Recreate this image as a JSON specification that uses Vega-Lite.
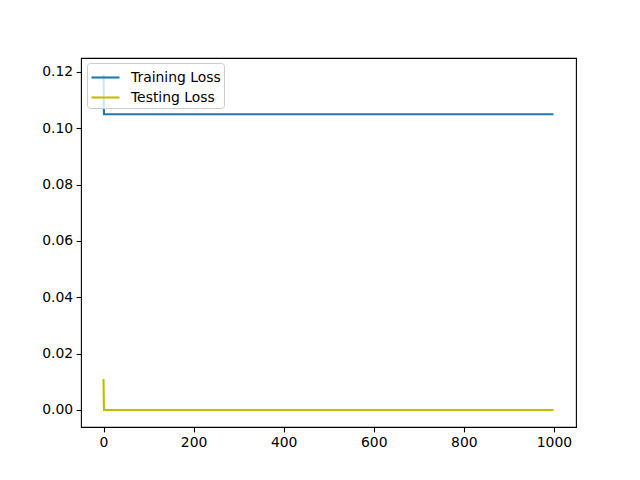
{
  "$schema": "https://vega.github.io/schema/vega-lite/v6.json",
  "width": 495,
  "height": 369,
  "autosize": {"type": "none"},
  "padding": {"left": 81, "top": 58, "right": 64, "bottom": 53},
  "background": "white",
  "config": {
    "font": "DejaVu Sans",
    "view": {"stroke": "black", "strokeWidth": 1.1},
    "axis": {
      "grid": false,
      "domain": false,
      "tickColor": "black",
      "tickSize": 4.9,
      "tickWidth": 1.1,
      "labelFontSize": 13.9,
      "labelColor": "black",
      "labelFont": "DejaVu Sans",
      "labelPadding": 3.5,
      "title": null
    },
    "legend": {
      "labelFontSize": 13.9,
      "labelColor": "black",
      "labelFont": "DejaVu Sans"
    }
  },
  "data": {
    "values": [
      {"step": 0, "loss": 0.119, "series": "Training Loss"},
      {"step": 1, "loss": 0.105, "series": "Training Loss"},
      {"step": 2, "loss": 0.105, "series": "Training Loss"},
      {"step": 10, "loss": 0.105, "series": "Training Loss"},
      {"step": 50, "loss": 0.105, "series": "Training Loss"},
      {"step": 100, "loss": 0.105, "series": "Training Loss"},
      {"step": 200, "loss": 0.105, "series": "Training Loss"},
      {"step": 300, "loss": 0.105, "series": "Training Loss"},
      {"step": 400, "loss": 0.105, "series": "Training Loss"},
      {"step": 500, "loss": 0.105, "series": "Training Loss"},
      {"step": 600, "loss": 0.105, "series": "Training Loss"},
      {"step": 700, "loss": 0.105, "series": "Training Loss"},
      {"step": 800, "loss": 0.105, "series": "Training Loss"},
      {"step": 900, "loss": 0.105, "series": "Training Loss"},
      {"step": 999, "loss": 0.105, "series": "Training Loss"},
      {"step": 0, "loss": 0.011, "series": "Testing Loss"},
      {"step": 1, "loss": 0.0, "series": "Testing Loss"},
      {"step": 2, "loss": 0.0, "series": "Testing Loss"},
      {"step": 10, "loss": 0.0, "series": "Testing Loss"},
      {"step": 50, "loss": 0.0, "series": "Testing Loss"},
      {"step": 100, "loss": 0.0, "series": "Testing Loss"},
      {"step": 200, "loss": 0.0, "series": "Testing Loss"},
      {"step": 300, "loss": 0.0, "series": "Testing Loss"},
      {"step": 400, "loss": 0.0, "series": "Testing Loss"},
      {"step": 500, "loss": 0.0, "series": "Testing Loss"},
      {"step": 600, "loss": 0.0, "series": "Testing Loss"},
      {"step": 700, "loss": 0.0, "series": "Testing Loss"},
      {"step": 800, "loss": 0.0, "series": "Testing Loss"},
      {"step": 900, "loss": 0.0, "series": "Testing Loss"},
      {"step": 999, "loss": 0.0, "series": "Testing Loss"}
    ]
  },
  "mark": {"type": "line", "strokeWidth": 2.1, "clip": true},
  "encoding": {
    "x": {
      "field": "step",
      "type": "quantitative",
      "scale": {"domain": [-49.95, 1048.95], "nice": false, "zero": false},
      "axis": {"values": [0, 200, 400, 600, 800, 1000], "format": "d"}
    },
    "y": {
      "field": "loss",
      "type": "quantitative",
      "scale": {"domain": [-0.00605, 0.12497], "nice": false, "zero": false},
      "axis": {"values": [0, 0.02, 0.04, 0.06, 0.08, 0.1, 0.12], "format": ".2f"}
    },
    "color": {
      "field": "series",
      "type": "nominal",
      "sort": ["Training Loss", "Testing Loss"],
      "scale": {"domain": ["Training Loss", "Testing Loss"], "range": ["#1f77b4", "#bfbf00"]},
      "legend": {
        "title": null,
        "orient": "none",
        "legendX": 6,
        "legendY": 5,
        "symbolType": "M-1.4,0H1.4",
        "symbolSize": 400,
        "symbolStrokeWidth": 2.1,
        "symbolOffset": 4,
        "rowPadding": 1,
        "labelOffset": 14,
        "labelExpr": "datum.label + '  '",
        "padding": 3,
        "fillColor": "rgba(255,255,255,0.8)",
        "strokeColor": "#cccccc",
        "cornerRadius": 3
      }
    }
  }
}
